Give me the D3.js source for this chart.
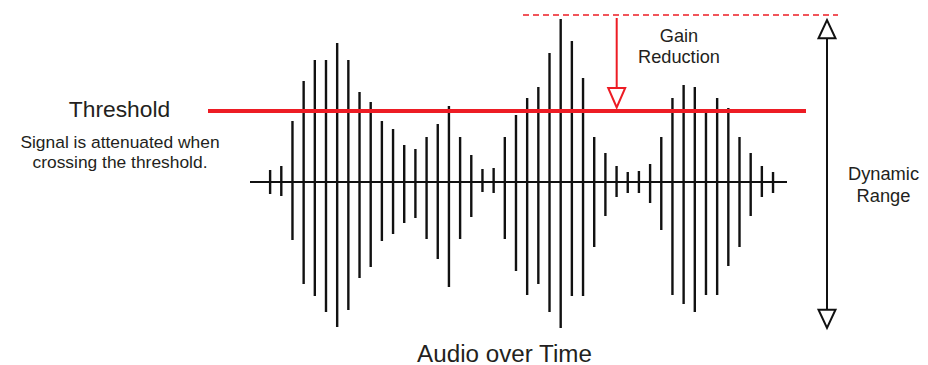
<!DOCTYPE html>
<html>
<head>
<meta charset="utf-8">
<script src="https://cdn.jsdelivr.net/npm/d3@7"></script>
<style>
  html, body { margin: 0; padding: 0; background: #fff; }
  text { font-family: "Liberation Sans", Arial, sans-serif; fill: #231f20; }
</style>
</head>
<body>
<div id="chart"></div>
<script>
// signal samples, amplitude above and below the zero line (one per stroke)
var upper = [12, 16, 61, 101, 122, 122, 139, 122, 90, 80, 61, 53, 37, 33, 45, 58, 76, 45, 27,
             13, 14, 45, 67, 84, 95, 129, 163, 141, 104, 45, 29, 16, 10, 11, 18,
             45, 84, 97, 95, 71, 84, 74, 45, 29, 16, 10];
var lower = [12, 14, 58, 102, 114, 130, 145, 128, 96, 85, 59, 52, 41, 36, 57, 77, 105, 57, 35,
             10, 11, 57, 89, 113, 102, 130, 146, 114, 114, 65, 34, 15, 11, 11, 21,
             48, 113, 122, 130, 113, 113, 84, 65, 34, 15, 11];

var thresholdLevel = 71;     // red threshold
var peakLevel = 167;         // loudest peak before compression (dashed)
var rangeTop = 162, rangeBottom = -146; // dynamic range arrow

var labels = {
    threshold: "Threshold",
    note: ["Signal is attenuated when", "crossing the threshold."],
    gain: ["Gain", "Reduction"],
    range: ["Dynamic", "Range"],
    xTitle: "Audio over Time"
};

var width = 928, height = 365;
var red = "#ed1c24";

var svg = d3.select("#chart").append("svg")
    .attr("width", width)
    .attr("height", height);

var x = d3.scaleLinear()
    .domain([-1.8, 46.25])
    .range([250, 787]);

var y = d3.scaleLinear()
    .domain([-150, 150])
    .range([332, 32]);

var samples = upper.map(function(u, i) {
    return { i: i, up: u, down: lower[i] };
});

// zero line
svg.append("line")
    .attr("x1", x(x.domain()[0]))
    .attr("x2", x(x.domain()[1]))
    .attr("y1", y(0))
    .attr("y2", y(0))
    .attr("stroke", "#111")
    .attr("stroke-width", 2);

// waveform strokes
svg.append("g")
    .selectAll("line")
    .data(samples)
    .enter().append("line")
    .attr("x1", function(d) { return x(d.i); })
    .attr("x2", function(d) { return x(d.i); })
    .attr("y1", function(d) { return y(d.up); })
    .attr("y2", function(d) { return y(-d.down); })
    .attr("stroke", "#111")
    .attr("stroke-width", 2.4);

// threshold
svg.append("line")
    .attr("x1", 208)
    .attr("x2", 806)
    .attr("y1", y(thresholdLevel))
    .attr("y2", y(thresholdLevel))
    .attr("stroke", red)
    .attr("stroke-width", 4);

// peak before compression
svg.append("line")
    .attr("x1", 523)
    .attr("x2", 838)
    .attr("y1", y(peakLevel))
    .attr("y2", y(peakLevel))
    .attr("stroke", red)
    .attr("stroke-width", 1.5)
    .attr("stroke-dasharray", "6,4");

function openHead(g, cx, baseY, tipY, color) {
    g.append("path")
        .attr("d", "M" + (cx - 8.5) + "," + baseY + "L" + (cx + 8.5) + "," + baseY + "L" + cx + "," + tipY + "Z")
        .attr("fill", "#fff")
        .attr("stroke", color)
        .attr("stroke-width", 2)
        .attr("stroke-linejoin", "miter");
}

// gain reduction arrow
var gx = 616.7;
var gainTip = y(thresholdLevel) - 3.5;
var gain = svg.append("g");
gain.append("line")
    .attr("x1", gx).attr("x2", gx)
    .attr("y1", y(peakLevel) + 3)
    .attr("y2", gainTip - 19.6)
    .attr("stroke", red)
    .attr("stroke-width", 2);
openHead(gain, gx, gainTip - 19.6, gainTip, red);

// dynamic range arrow
var rx = 827;
var dyn = svg.append("g");
dyn.append("line")
    .attr("x1", rx).attr("x2", rx)
    .attr("y1", y(rangeTop) + 18)
    .attr("y2", y(rangeBottom) - 18)
    .attr("stroke", "#111")
    .attr("stroke-width", 2);
openHead(dyn, rx, y(rangeTop) + 18.3, y(rangeTop), "#111");
openHead(dyn, rx, y(rangeBottom) - 18.3, y(rangeBottom), "#111");

// texts
svg.append("text")
    .attr("x", 119.5).attr("y", 117)
    .attr("text-anchor", "middle")
    .attr("font-size", 22.8)
    .text(labels.threshold);

svg.append("g").selectAll("text")
    .data(labels.note)
    .enter().append("text")
    .attr("x", 120)
    .attr("y", function(d, i) { return 148 + i * 19.5; })
    .attr("text-anchor", "middle")
    .attr("font-size", 17.4)
    .text(function(d) { return d; });

svg.append("g").selectAll("text")
    .data(labels.gain)
    .enter().append("text")
    .attr("x", 679)
    .attr("y", function(d, i) { return 42 + i * 20.5; })
    .attr("text-anchor", "middle")
    .attr("font-size", 18.2)
    .text(function(d) { return d; });

svg.append("g").selectAll("text")
    .data(labels.range)
    .enter().append("text")
    .attr("x", 883.5)
    .attr("y", function(d, i) { return 180 + i * 21.5; })
    .attr("text-anchor", "middle")
    .attr("font-size", 18.3)
    .text(function(d) { return d; });

svg.append("text")
    .attr("x", 504.5)
    .attr("y", 361.5)
    .attr("text-anchor", "middle")
    .attr("font-size", 24.2)
    .text(labels.xTitle);
</script>
</body>
</html>
